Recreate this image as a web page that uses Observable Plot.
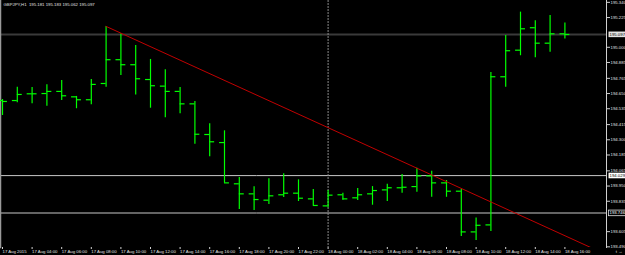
<!DOCTYPE html>
<html>
<head>
<meta charset="utf-8">
<script src="https://cdn.jsdelivr.net/npm/d3@7"></script>
<script src="https://cdn.jsdelivr.net/npm/@observablehq/plot@0.6"></script>
<style>
  html, body { margin: 0; padding: 0; background: #000; }
  svg { display: block; }
</style>
</head>
<body>
<script>
// ---------- data ----------
const symbolTitle = "GBPJPY,H1  195.181 195.183 195.062 195.097";

const times = [
  "2015-08-17 02:00","2015-08-17 03:00","2015-08-17 04:00","2015-08-17 05:00","2015-08-17 06:00",
  "2015-08-17 07:00","2015-08-17 08:00","2015-08-17 09:00","2015-08-17 10:00","2015-08-17 11:00",
  "2015-08-17 12:00","2015-08-17 13:00","2015-08-17 14:00","2015-08-17 15:00","2015-08-17 16:00",
  "2015-08-17 17:00","2015-08-17 18:00","2015-08-17 19:00","2015-08-17 20:00","2015-08-17 21:00",
  "2015-08-17 22:00","2015-08-17 23:00","2015-08-18 00:00","2015-08-18 01:00","2015-08-18 02:00",
  "2015-08-18 03:00","2015-08-18 04:00","2015-08-18 05:00","2015-08-18 06:00","2015-08-18 07:00",
  "2015-08-18 08:00","2015-08-18 09:00","2015-08-18 10:00","2015-08-18 11:00","2015-08-18 12:00",
  "2015-08-18 13:00","2015-08-18 14:00","2015-08-18 15:00","2015-08-18 16:00"
];
const opens = [194.597,194.597,194.648,194.650,194.666,194.625,194.603,194.726,194.906,194.868,
  194.756,194.706,194.666,194.572,194.340,194.279,193.967,193.891,193.843,193.884,
  193.896,193.853,193.800,193.884,193.861,193.891,193.921,193.937,193.946,194.027,
  193.974,193.911,193.603,193.656,194.777,194.978,195.148,195.031,195.102];
const highs = [194.605,194.698,194.696,194.716,194.749,194.628,194.756,195.158,195.102,195.014,
  194.908,194.830,194.696,194.590,194.421,194.368,194.015,193.944,194.005,194.043,
  193.997,193.924,193.916,193.896,193.931,193.946,193.964,194.037,194.085,194.062,
  193.992,193.926,193.709,194.809,195.089,195.266,195.201,195.241,195.183];
const lows = [194.484,194.580,194.572,194.554,194.597,194.535,194.565,194.698,194.787,194.638,
  194.539,194.466,194.497,194.267,194.171,193.971,193.772,193.765,193.810,193.863,
  193.833,193.800,193.785,193.843,193.840,193.805,193.833,193.896,193.903,193.865,
  193.865,193.568,193.538,193.606,194.698,194.936,194.921,194.963,195.062];
const closes = [194.590,194.643,194.648,194.666,194.633,194.603,194.719,194.906,194.868,194.762,
  194.709,194.666,194.572,194.342,194.285,193.974,193.891,193.848,193.876,193.896,
  193.858,193.803,193.881,193.853,193.884,193.916,193.937,193.941,194.027,193.974,
  193.911,193.603,193.653,194.777,194.974,195.140,195.031,195.102,195.097];

const trendTimes = ["2015-08-17 09:00", "2015-08-18 18:00"];
const trendPrices = [195.158, 193.472];

const bidPrice = 195.097;
const levelPrices = [194.029, 193.746];
const separatorTime = "2015-08-18 00:00";

const yTickLabels = ["195.340","195.225","195.000","194.885","194.765","194.650","194.535",
  "194.415","194.300","194.185","194.065","193.950","193.835","193.605","193.490"];

const xTickTimes = ["2015-08-17 02:00","2015-08-17 04:00","2015-08-17 06:00","2015-08-17 08:00",
  "2015-08-17 10:00","2015-08-17 12:00","2015-08-17 14:00","2015-08-17 16:00","2015-08-17 18:00",
  "2015-08-17 20:00","2015-08-17 22:00","2015-08-18 00:00","2015-08-18 02:00","2015-08-18 04:00",
  "2015-08-18 06:00","2015-08-18 08:00","2015-08-18 10:00","2015-08-18 12:00","2015-08-18 14:00",
  "2015-08-18 16:00"];
const xTickLabels = ["17 Aug 2015","17 Aug 04:00","17 Aug 06:00","17 Aug 08:00","17 Aug 10:00",
  "17 Aug 12:00","17 Aug 14:00","17 Aug 16:00","17 Aug 18:00","17 Aug 20:00","17 Aug 22:00",
  "18 Aug 00:00","18 Aug 02:00","18 Aug 04:00","18 Aug 06:00","18 Aug 08:00","18 Aug 10:00",
  "18 Aug 12:00","18 Aug 14:00","18 Aug 16:00"];

// ---------- build ----------
const parse = d3.utcParse("%Y-%m-%d %H:%M");
const HOUR = 3600 * 1000;
const bars = times.map((t, i) => ({t: parse(t), o: opens[i], h: highs[i], l: lows[i], c: closes[i]}));
const trend = trendTimes.map((t, i) => ({t: parse(t), p: trendPrices[i]}));
const xTicks = xTickTimes.map(parse);
const xLabelMap = new Map(xTicks.map((d, i) => [+d, xTickLabels[i]]));
const yTicks = yTickLabels.map(Number);
const yLabelMap = new Map(yTicks.map((d, i) => [d, yTickLabels[i]]));

const t0 = +parse(times[0]);
const pxPerHour = 14.8;
const xDomain = [new Date(t0 - 2 / pxPerHour * HOUR), new Date(t0 + 604 / pxPerHour * HOUR)];
const TICK = 20 * 60 * 1000; // open/close tick length (time units)

const GREEN = "#00ff00";
const FONT = 4.3;

const svg = Plot.plot({
  width: 625,
  height: 255,
  marginLeft: 0,
  marginRight: 19,
  marginTop: 0,
  marginBottom: 8,
  style: {background: "#000", color: "#e0e0e0", fontFamily: "Liberation Sans, Arial, sans-serif", fontSize: FONT + "px"},
  x: {type: "utc", domain: xDomain, axis: null},
  y: {domain: [193.485, 195.354], axis: null},
  marks: [
    Plot.ruleY([bidPrice], {stroke: "#3a3a3a", strokeWidth: 2}),
    Plot.ruleY(levelPrices, {stroke: "#c8c8c8", strokeWidth: 1}),
    Plot.ruleX([parse(separatorTime)], {stroke: "#8a8a8a", strokeDasharray: "2,1"}),
    Plot.frame({anchor: "left", stroke: "#9a9a9a", strokeWidth: 1.5}),
    Plot.ruleX(bars, {x: "t", y1: "l", y2: "h", stroke: GREEN, strokeWidth: 1.2}),
    Plot.ruleY(bars, {y: "o", x1: d => new Date(+d.t - TICK), x2: "t", stroke: GREEN, strokeWidth: 1.2}),
    Plot.ruleY(bars, {y: "c", x1: "t", x2: d => new Date(+d.t + TICK), stroke: GREEN, strokeWidth: 1.2}),
    Plot.line(trend, {x: "t", y: "p", stroke: "#c00000", strokeWidth: 1, clip: true}),
    Plot.frame({anchor: "right", stroke: "#d0d0d0"}),
    Plot.axisY(yTicks, {anchor: "right", tickSize: 3, tickPadding: 1, stroke: "#d0d0d0", fill: "#e0e0e0",
      tickFormat: d => yLabelMap.get(d), fontSize: FONT}),
    Plot.axisX(xTicks, {anchor: "bottom", tickSize: 2, tickPadding: 0.5, textAnchor: "start", stroke: "#d0d0d0",
      fill: "#e0e0e0", tickFormat: d => xLabelMap.get(+d), fontSize: FONT}),
    Plot.text([symbolTitle], {frameAnchor: "top-left", dx: 3, dy: 2, textAnchor: "start", lineAnchor: "top",
      fill: "#e0e0e0", fontSize: FONT}),
    Plot.text([bidPrice], {y: d => d, text: d => d.toFixed(3), frameAnchor: "right", dx: 3, textAnchor: "start",
      fill: "#000", fontSize: FONT, className: "box-bid"}),
    Plot.text([levelPrices[0]], {y: d => d, text: d => d.toFixed(3), frameAnchor: "right", dx: 3, textAnchor: "start",
      fill: "#000", fontSize: FONT, className: "box-lvl1"}),
    Plot.text([levelPrices[1]], {y: d => d, text: d => d.toFixed(3), frameAnchor: "right", dx: 3, textAnchor: "start",
      fill: "#fff", fontSize: FONT, className: "box-lvl2"})
  ]
});
document.body.append(svg);

// label boxes behind price-level texts
const boxStyles = {"box-bid": {fill: "#e4e4e4", stroke: "none"}, "box-lvl1": {fill: "#ffffff", stroke: "none"}, "box-lvl2": {fill: "#000", stroke: "#e0e0e0"}};
for (const [cls, st] of Object.entries(boxStyles)) {
  d3.select(svg).selectAll("g." + cls + " text").each(function() {
    const b = this.getBBox();
    d3.select(this.parentNode).insert("rect", () => this)
      .attr("x", b.x - 1).attr("y", b.y - 0.3).attr("width", b.width + 2.5).attr("height", b.height + 0.6)
      .attr("transform", this.getAttribute("transform"))
      .attr("fill", st.fill).attr("stroke", st.stroke).attr("stroke-width", 0.8);
  });
}
</script>
</body>
</html>
